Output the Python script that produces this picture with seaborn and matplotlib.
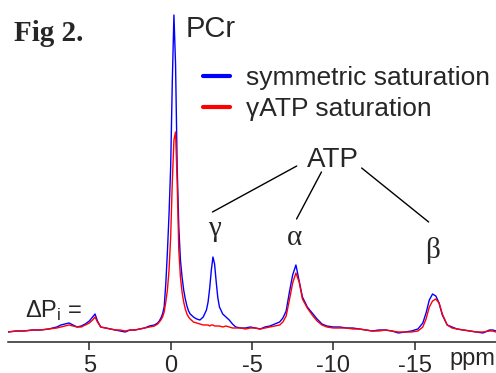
import numpy as np
import pandas as pd
import seaborn as sns
import matplotlib
matplotlib.use("Agg")
import matplotlib.pyplot as plt

# %% spectrum (chemical shift in ppm, intensity in a.u.)
ppm = [
    10.0, 9.5, 9.0, 8.5, 8.0, 7.5, 7.0, 6.75, 6.5, 6.25,
    6.0, 5.75, 5.5, 5.25, 5.0, 4.8, 4.65, 4.5, 4.3, 4.0,
    3.7, 3.4, 3.1, 2.8, 2.5, 2.2, 1.9, 1.6, 1.3, 1.0,
    0.9, 0.8, 0.7, 0.6, 0.5, 0.4, 0.3, 0.2, 0.1, 0.0,
    -0.1, -0.2, -0.3, -0.4, -0.5, -0.6, -0.7, -0.8, -0.9, -1.0,
    -1.1, -1.2, -1.4, -1.6, -1.8, -2.0, -2.2, -2.3, -2.4, -2.5,
    -2.6, -2.7, -2.8, -2.9, -3.0, -3.2, -3.4, -3.6, -3.8, -4.0,
    -4.3, -4.6, -4.9, -5.2, -5.5, -5.8, -6.1, -6.4, -6.7, -6.9,
    -7.1, -7.3, -7.5, -7.7, -7.9, -8.1, -8.4, -8.7, -9.0, -9.3,
    -9.6, -10.0, -10.4, -10.8, -11.2, -11.6, -12.0, -12.4, -12.8, -13.2,
    -13.6, -14.0, -14.4, -14.8, -15.2, -15.5, -15.7, -15.9, -16.1, -16.3,
    -16.5, -16.7, -17.0, -17.3, -17.6, -18.0, -18.4, -18.8, -19.2, -19.6,
    -19.8, -20.0,
]
symmetric = [
    0, 1, 1, 2, 2, 3, 5, 7, 8, 9,
    7, 5, 6, 8, 11, 15, 18, 11, 5, 4,
    3, 2, 1, 0, 2, 2, 3, 4, 6, 7,
    8, 9, 11, 14, 18, 25, 48, 80, 118, 165,
    250, 317, 268, 165, 105, 72, 55, 42, 33, 26,
    21, 18, 15, 13, 12, 15, 22, 30, 44, 62,
    75, 68, 50, 34, 25, 18, 15, 12, 8, 5,
    4, 4, 5, 4, 3, 5, 6, 8, 10, 14,
    21, 40, 57, 67, 51, 35, 25, 19, 13, 8,
    6, 5, 5, 4, 4, 3, 2, 1, 2, 2,
    1, -1, 0, 1, 3, 9, 19, 32, 38, 36,
    29, 17, 7, 5, 3, 2, 1, 0, -1, 2,
    2, 1,
]
gamma_sat = [
    0, 1, 1, 2, 2, 3, 4, 5, 6, 7,
    6, 5, 5, 7, 9, 12, 15, 10, 5, 4,
    3, 2, 2, 1, 2, 2, 3, 4, 5, 6,
    7, 8, 10, 12, 15, 20, 30, 42, 62, 95,
    150, 192, 200, 150, 82, 55, 40, 30, 23, 18,
    15, 13, 10, 9, 8, 7, 7, 7, 6, 7,
    7, 6, 6, 6, 6, 5, 6, 5, 4, 4,
    4, 3, 4, 4, 3, 4, 5, 6, 7, 10,
    16, 32, 49, 59, 50, 33, 24, 17, 11, 7,
    5, 4, 4, 4, 3, 3, 2, 1, 1, 2,
    1, 0, 0, 0, 1, 5, 13, 25, 31, 33,
    29, 18, 7, 4, 3, 2, 1, 0, 0, 1,
    1, 0,
]
series = ["symmetric saturation", "\u03b3ATP saturation"]
colors = ["blue", "red"]
ticks = [5, 0, -5, -10, -15]

assert len(ppm) == len(symmetric) == len(gamma_sat)

df = pd.concat([
    pd.DataFrame({"ppm": ppm, "intensity": symmetric, "series": series[0]}),
    pd.DataFrame({"ppm": ppm, "intensity": gamma_sat, "series": series[1]}),
])

# %%
sns.set_style("white")
plt.rcParams["font.family"] = ["Liberation Sans", "DejaVu Sans"]
plt.rcParams["axes.unicode_minus"] = False
plt.rcParams["mathtext.fontset"] = "custom"
plt.rcParams["mathtext.rm"] = "Liberation Sans"
plt.rcParams["mathtext.it"] = "Liberation Sans:italic"

fig = plt.figure(figsize=(4.96, 3.73), dpi=100)
ax = fig.add_axes([8 / 496, 31 / 373, 488 / 496, 342 / 373])

sns.lineplot(
    data=df, x="ppm", y="intensity", hue="series", hue_order=series,
    palette=dict(zip(series, colors)), sort=False, estimator=None,
    lw=1.0, ax=ax,
)

ax.set_xlim(10, -20)
ax.set_ylim(-10, 332)
ax.set_xticks(ticks)
ax.set_yticks([])
ax.set_xlabel("")
ax.set_ylabel("")
for s in ["left", "top", "right"]:
    ax.spines[s].set_visible(False)
ax.spines["bottom"].set_linewidth(1.1)
ax.tick_params(axis="x", direction="out", length=5.8, width=1.1,
               labelsize=17, pad=3.5, bottom=True)

leg = ax.legend(
    loc="upper left", bbox_to_anchor=(203 / 496, 1 - 66 / 373),
    bbox_transform=fig.transFigure, frameon=False, fontsize=19,
    borderpad=0, borderaxespad=0, handlelength=1.02, handletextpad=0.6,
    labelspacing=0.28, title=None,
)
for h in leg.get_lines():
    h.set_linewidth(3)

# peak labels
ax.text(-0.91, 295, "PCr", fontsize=21, ha="left", va="baseline")
ax.text(-9.95, 165, "ATP", fontsize=20, ha="center", va="baseline")
greek = dict(fontsize=21, family="Liberation Serif", ha="center", va="baseline")
ax.text(-2.68, 96, "\u03b3", **greek)
ax.text(-7.6, 87, "\u03b1", **greek)
ax.text(-16.1, 74, "\u03b2", **greek)
for start, end in [((-7.75, 166), (-2.57, 120)),
                   ((-9.27, 160), (-7.74, 113)),
                   ((-11.74, 164), (-15.86, 110))]:
    ax.annotate("", xy=end, xytext=start,
                arrowprops=dict(arrowstyle="-", lw=1.0, color="black",
                                shrinkA=0, shrinkB=0))
ax.text(8.94, 15, r"$\mathregular{\Delta P_i}$ =", fontsize=17,
        ha="left", va="baseline")

fig.text(0.999, 1 - 365 / 373, "ppm", fontsize=17, ha="right", va="baseline")
fig.text(14 / 496, 1 - 41 / 373, "Fig 2.", fontsize=21,
         family="Liberation Serif", weight="bold", va="baseline")

fig.savefig("out.png", dpi=100)
